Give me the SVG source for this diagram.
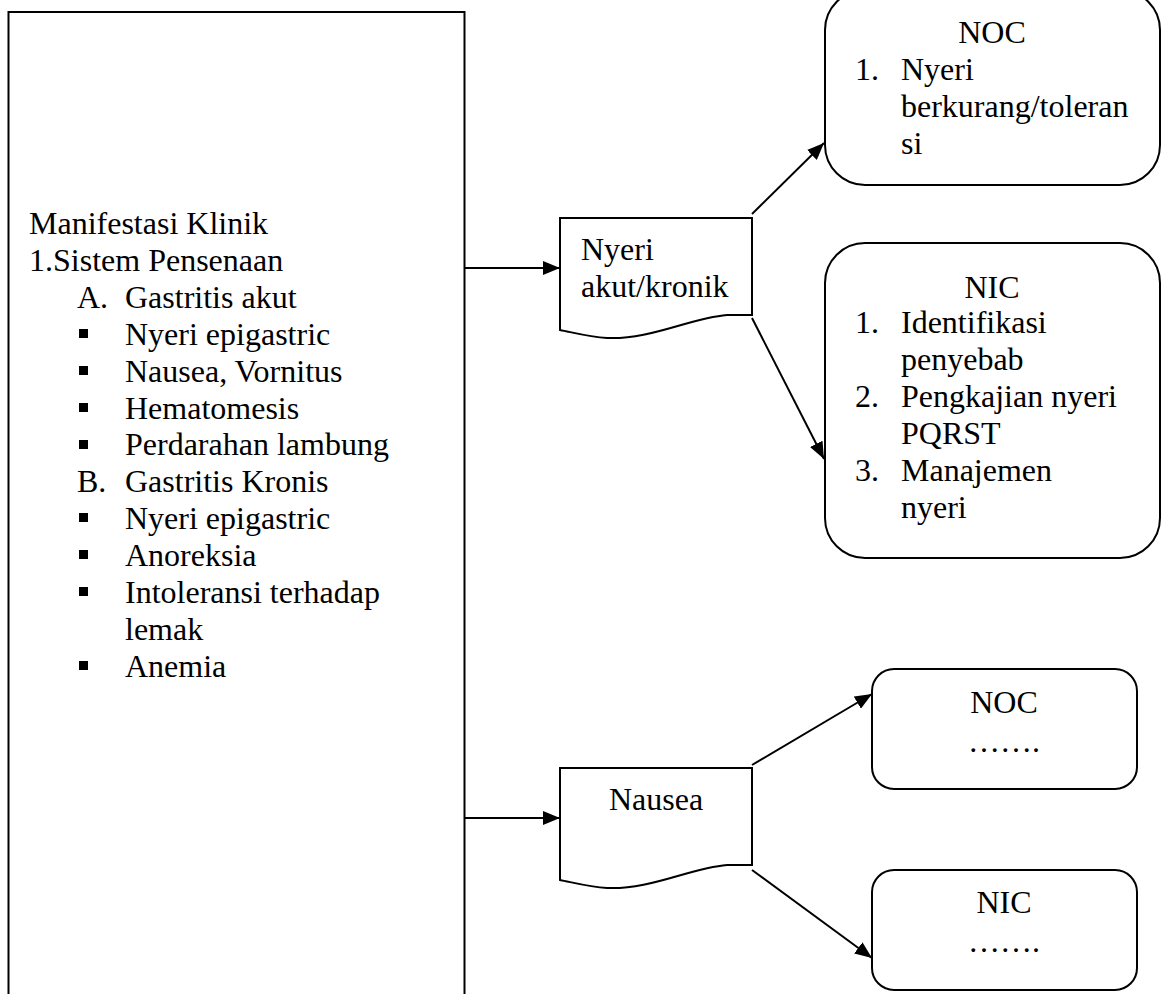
<svg xmlns="http://www.w3.org/2000/svg" width="1164" height="994" viewBox="0 0 1164 994" font-family="'Liberation Serif', serif" font-size="32">
<style>
text{font-family:'Liberation Serif',serif;font-size:32px;fill:#000}
.c{text-anchor:middle}
.box{fill:#fff;stroke:#000;stroke-width:2}
.conn line{stroke:#000;stroke-width:2}
.bul{fill:#000}
</style>
<defs>
<marker id="ah" markerUnits="userSpaceOnUse" markerWidth="18" markerHeight="14" viewBox="0 0 18 14" refX="17" refY="7" orient="auto">
<path d="M0,0 L17,7 L0,14 Z" fill="#000"/>
</marker>
</defs>
<rect width="1164" height="994" fill="#fff"/>
<g id="manifestasi">
<path class="box" d="M8.5,1000 V12 H464.5 V1000"/>
<text x="29" y="234">Manifestasi Klinik</text>
<text x="29" y="271">1.Sistem Pensenaan</text>
<text x="77" y="308">A.</text><text x="125" y="308">Gastritis akut</text>
<rect class="bul" x="79" y="329" width="9" height="9"/><text x="125" y="345">Nyeri epigastric</text>
<rect class="bul" x="79" y="366" width="9" height="9"/><text x="125" y="382">Nausea, Vornitus</text>
<rect class="bul" x="79" y="403" width="9" height="9"/><text x="125" y="419">Hematomesis</text>
<rect class="bul" x="79" y="440" width="9" height="9"/><text x="125" y="455">Perdarahan lambung</text>
<text x="77" y="492">B.</text><text x="125" y="492">Gastritis Kronis</text>
<rect class="bul" x="79" y="513" width="9" height="9"/><text x="125" y="529">Nyeri epigastric</text>
<rect class="bul" x="79" y="550" width="9" height="9"/><text x="125" y="566">Anoreksia</text>
<rect class="bul" x="79" y="587" width="9" height="9"/><text x="125" y="603">Intoleransi terhadap</text>
<text x="125" y="640">lemak</text>
<rect class="bul" x="79" y="661" width="9" height="9"/><text x="125" y="677">Anemia</text>
</g>
<g id="nyeri">
<path class="box" d="M560,218 H752 V315 H727 C690,318 650,340 607,338 C590,337 575,333 560,330 Z"/>
<text x="581" y="260">Nyeri</text>
<text x="581" y="297">akut/kronik</text>
</g>
<g id="nausea">
<path class="box" d="M560,768 H752 V865 H727 C690,868 650,890 607,888 C590,887 575,883 560,880 Z"/>
<text class="c" x="656" y="810">Nausea</text>
</g>
<g id="noc1">
<rect class="box" x="825" y="-10" width="335" height="195" rx="40" ry="40"/>
<text class="c" x="992" y="43">NOC</text>
<text x="855" y="80">1.</text><text x="901" y="80">Nyeri</text>
<text x="901" y="117">berkurang/toleran</text>
<text x="901" y="154">si</text>
</g>
<g id="nic1">
<rect class="box" x="825" y="243" width="335" height="315" rx="40" ry="40"/>
<text class="c" x="992" y="298">NIC</text>
<text x="855" y="333">1.</text><text x="901" y="333">Identifikasi</text>
<text x="901" y="370">penyebab</text>
<text x="855" y="407">2.</text><text x="901" y="407">Pengkajian nyeri</text>
<text x="901" y="444">PQRST</text>
<text x="855" y="481">3.</text><text x="901" y="481">Manajemen</text>
<text x="901" y="518">nyeri</text>
</g>
<g id="noc2">
<rect class="box" x="872" y="669" width="265" height="120" rx="22" ry="22"/>
<text class="c" x="1004" y="713">NOC</text>
<text class="c" x="1004" y="752">…….</text>
</g>
<g id="nic2">
<rect class="box" x="872" y="870" width="265" height="120" rx="22" ry="22"/>
<text class="c" x="1004" y="913">NIC</text>
<text class="c" x="1004" y="952">…….</text>
</g>
<g id="connectors" class="conn">
<line x1="465" y1="268" x2="560" y2="268" marker-end="url(#ah)"/>
<line x1="465" y1="818" x2="560" y2="818" marker-end="url(#ah)"/>
<line x1="752" y1="214" x2="824" y2="143" marker-end="url(#ah)"/>
<line x1="752" y1="318" x2="824" y2="459" marker-end="url(#ah)"/>
<line x1="752" y1="765" x2="872" y2="694" marker-end="url(#ah)"/>
<line x1="752" y1="870" x2="872" y2="958" marker-end="url(#ah)"/>
</g>
</svg>
